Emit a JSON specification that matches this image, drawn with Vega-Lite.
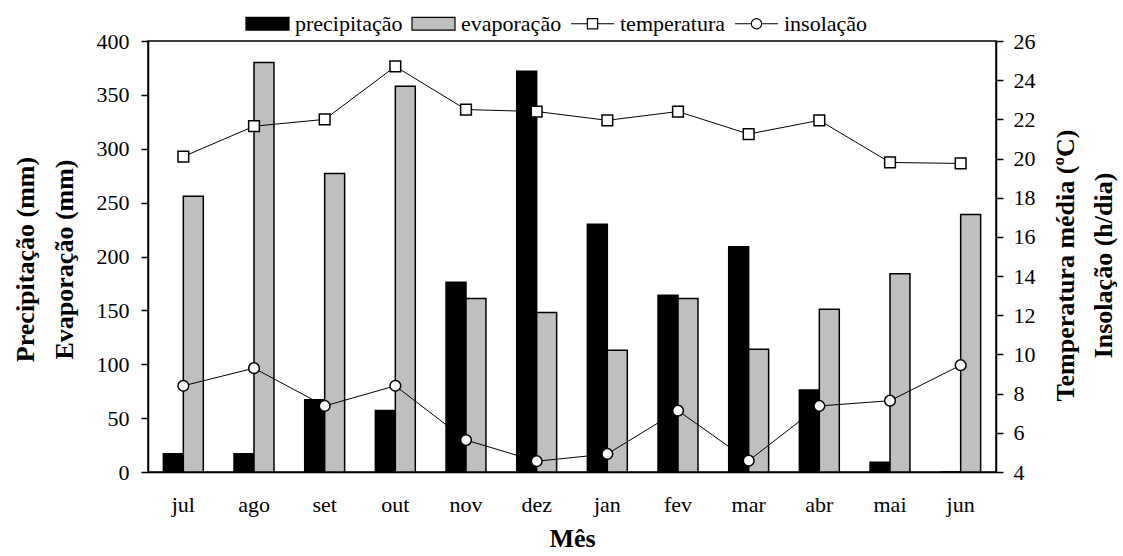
{
  "$schema": "https://vega.github.io/schema/vega-lite/v6.json",
  "width": 848,
  "height": 431,
  "autosize": {"type": "none"},
  "padding": {"left": 148, "top": 41, "right": 127, "bottom": 84},
  "background": "white",
  "datasets": {
    "clima": [
      {"mes": "jul", "serie": "precipitação", "valor": 17},
      {"mes": "ago", "serie": "precipitação", "valor": 17},
      {"mes": "set", "serie": "precipitação", "valor": 67},
      {"mes": "out", "serie": "precipitação", "valor": 57},
      {"mes": "nov", "serie": "precipitação", "valor": 176},
      {"mes": "dez", "serie": "precipitação", "valor": 372},
      {"mes": "jan", "serie": "precipitação", "valor": 230},
      {"mes": "fev", "serie": "precipitação", "valor": 164},
      {"mes": "mar", "serie": "precipitação", "valor": 209},
      {"mes": "abr", "serie": "precipitação", "valor": 76},
      {"mes": "mai", "serie": "precipitação", "valor": 9},
      {"mes": "jun", "serie": "precipitação", "valor": 0},
      {"mes": "jul", "serie": "evaporação", "valor": 256},
      {"mes": "ago", "serie": "evaporação", "valor": 380},
      {"mes": "set", "serie": "evaporação", "valor": 277},
      {"mes": "out", "serie": "evaporação", "valor": 358},
      {"mes": "nov", "serie": "evaporação", "valor": 161},
      {"mes": "dez", "serie": "evaporação", "valor": 148},
      {"mes": "jan", "serie": "evaporação", "valor": 113},
      {"mes": "fev", "serie": "evaporação", "valor": 161},
      {"mes": "mar", "serie": "evaporação", "valor": 114},
      {"mes": "abr", "serie": "evaporação", "valor": 151},
      {"mes": "mai", "serie": "evaporação", "valor": 184},
      {"mes": "jun", "serie": "evaporação", "valor": 239},
      {"mes": "jul", "serie": "temperatura", "valor": 20.1},
      {"mes": "ago", "serie": "temperatura", "valor": 21.65},
      {"mes": "set", "serie": "temperatura", "valor": 22.0},
      {"mes": "out", "serie": "temperatura", "valor": 24.7},
      {"mes": "nov", "serie": "temperatura", "valor": 22.5},
      {"mes": "dez", "serie": "temperatura", "valor": 22.4},
      {"mes": "jan", "serie": "temperatura", "valor": 21.95},
      {"mes": "fev", "serie": "temperatura", "valor": 22.4},
      {"mes": "mar", "serie": "temperatura", "valor": 21.25},
      {"mes": "abr", "serie": "temperatura", "valor": 21.95},
      {"mes": "mai", "serie": "temperatura", "valor": 19.8},
      {"mes": "jun", "serie": "temperatura", "valor": 19.75},
      {"mes": "jul", "serie": "insolação", "valor": 8.4},
      {"mes": "ago", "serie": "insolação", "valor": 9.3},
      {"mes": "set", "serie": "insolação", "valor": 7.37},
      {"mes": "out", "serie": "insolação", "valor": 8.4},
      {"mes": "nov", "serie": "insolação", "valor": 5.63},
      {"mes": "dez", "serie": "insolação", "valor": 4.55},
      {"mes": "jan", "serie": "insolação", "valor": 4.92},
      {"mes": "fev", "serie": "insolação", "valor": 7.13},
      {"mes": "mar", "serie": "insolação", "valor": 4.58},
      {"mes": "abr", "serie": "insolação", "valor": 7.37},
      {"mes": "mai", "serie": "insolação", "valor": 7.64},
      {"mes": "jun", "serie": "insolação", "valor": 9.45}
    ]
  },
  "data": {"name": "clima"},
  "layer": [
    {
      "transform": [{"filter": "datum.serie === 'precipitação' || datum.serie === 'evaporação'"}],
      "mark": {"type": "bar", "stroke": "black", "strokeWidth": 1.5},
      "encoding": {
        "x": {
          "field": "mes", "type": "nominal",
          "sort": ["jul","ago","set","out","nov","dez","jan","fev","mar","abr","mai","jun"],
          "scale": {"paddingInner": 0, "paddingOuter": 0},
          "title": "Mês",
          "axis": {"ticks": false, "labelAngle": 0, "labelPadding": 22, "titlePadding": 10}
        },
        "xOffset": {
          "field": "serie", "type": "nominal",
          "sort": ["precipitação", "evaporação"],
          "scale": {"paddingInner": 0, "paddingOuter": 0.77}
        },
        "y": {
          "field": "valor", "type": "quantitative",
          "scale": {"domain": [0, 400], "nice": false, "zero": true},
          "axis": {
            "values": [0,50,100,150,200,250,300,350,400],
            "tickSize": 7, "labelPadding": 12,
            "title": ["Precipitação (mm)", "Evaporação (mm)"],
            "titleLineHeight": 39,
            "titleAngle": 270, "titleAlign": "center", "titleBaseline": "bottom",
            "titleX": -110, "titleY": 218
          }
        },
        "fill": {
          "field": "serie", "type": "nominal",
          "scale": {
            "domain": ["precipitação", "evaporação", "temperatura", "insolação"],
            "range": ["black", "#bfbfbf", "white", "white"]
          },
          "legend": {
            "orient": "none", "legendX": 97, "legendY": -40,
            "direction": "horizontal", "title": null,
            "symbolSize": 1849, "symbolStrokeColor": "black", "symbolStrokeWidth": 1.2,
            "labelFont": "Liberation Serif", "labelFontSize": 22, "labelColor": "black",
            "labelOffset": 5, "columnPadding": 6, "padding": 0, "symbolOpacity": 1,
            "encode": {
              "symbols": {
                "update": {
                  "shape": {"signal": "datum.value === 'temperatura' ? 'M-1,0H-0.24M0.24,0H1M-0.24,-0.24H0.24V0.24H-0.24Z' : datum.value === 'insolação' ? 'M-1,0H-0.24M0.24,0H1M0.24,0A0.24,0.24 0 1,1 -0.24,0A0.24,0.24 0 1,1 0.24,0Z' : 'M-1,-0.3H1V0.3H-1Z'"}
                }
              }
            }
          }
        }
      }
    },
    {
      "transform": [{"filter": "datum.serie === 'temperatura' || datum.serie === 'insolação'"}],
      "encoding": {
        "x": {
          "field": "mes", "type": "nominal",
          "sort": ["jul","ago","set","out","nov","dez","jan","fev","mar","abr","mai","jun"]
        },
        "y": {
          "field": "valor", "type": "quantitative",
          "scale": {"domain": [4, 26], "nice": false, "zero": false},
          "axis": {
            "orient": "right",
            "values": [4,6,8,10,12,14,16,18,20,22,24,26],
            "tickSize": 7, "labelPadding": 10,
            "title": ["Temperatura média (ºC)", "Insolação (h/dia)"],
            "titleLineHeight": 38,
            "titleAngle": 270, "titleAlign": "center", "titleBaseline": "bottom",
            "titleX": 82, "titleY": 224
          }
        }
      },
      "layer": [
        {
          "mark": {"type": "line", "color": "black", "strokeWidth": 1},
          "encoding": {"detail": {"field": "serie", "type": "nominal"}}
        },
        {
          "mark": {"type": "point", "filled": true, "fill": "white", "stroke": "black", "strokeWidth": 1.5, "size": 115, "opacity": 1},
          "encoding": {
            "shape": {
              "field": "serie", "type": "nominal",
              "scale": {"domain": ["temperatura", "insolação"], "range": ["square", "circle"]},
              "legend": null
            }
          }
        }
      ]
    }
  ],
  "resolve": {"scale": {"y": "independent"}},
  "config": {
    "font": "Liberation Serif",
    "view": {"stroke": "black", "strokeWidth": 1.5},
    "axis": {
      "labelFont": "Liberation Serif", "labelFontSize": 22, "labelColor": "black",
      "titleFont": "Liberation Serif", "titleFontSize": 26, "titleFontWeight": "bold", "titleColor": "black",
      "domainColor": "black", "domainWidth": 1.5, "tickColor": "black", "tickWidth": 1.5,
      "grid": false
    }
  }
}
